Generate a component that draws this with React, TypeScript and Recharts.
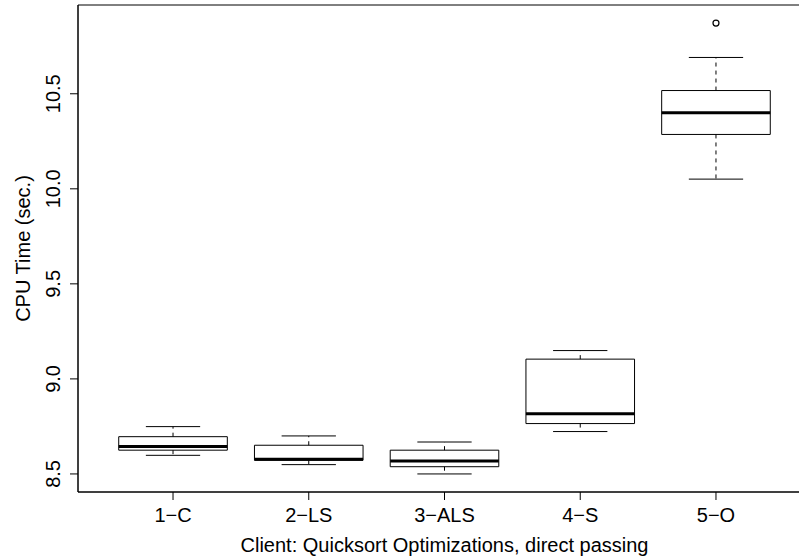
import React from "react";
import {
  ComposedChart,
  XAxis,
  YAxis,
  ReferenceArea,
  ReferenceLine,
  Scatter
} from "recharts";

const groups = ["1−C", "2−LS", "3−ALS", "4−S", "5−O"];
const whiskerLow = [8.598, 8.549, 8.5, 8.723, 10.051];
const q1 = [8.625, 8.572, 8.538, 8.765, 10.286];
const medians = [8.644, 8.577, 8.568, 8.816, 10.4];
const q3 = [8.696, 8.651, 8.625, 9.104, 10.517];
const whiskerHigh = [8.749, 8.7, 8.668, 9.149, 10.691];
const outlierGroup = [5];
const outlierValue = [10.872];
const yTicks = [8.5, 9.0, 9.5, 10.0, 10.5];

const FONT = "'Liberation Sans', Arial, sans-serif";
const FS = 20;
const boxHalf = 0.4;
const capHalf = 0.2;

const outlierData = outlierGroup.map((g, i) => ({ x: g, y: outlierValue[i] }));

const XTick = (props: any) => {
  const { x, y, payload } = props;
  return (
    <text x={x} y={y + 20} textAnchor="middle" fontSize={FS} fontFamily={FONT} fill="#000">
      {groups[payload.value - 1]}
    </text>
  );
};

const YTick = (props: any) => {
  const { x, y, payload } = props;
  const tx = x - 8;
  return (
    <text
      x={tx}
      y={y}
      transform={`rotate(-90, ${tx}, ${y})`}
      textAnchor="middle"
      fontSize={FS}
      fontFamily={FONT}
      fill="#000"
    >
      {payload.value.toFixed(1)}
    </text>
  );
};

const XTitle = (props: any) => {
  const { viewBox } = props;
  return (
    <text
      x={viewBox.x + viewBox.width / 2}
      y={viewBox.y + 60}
      textAnchor="middle"
      fontSize={FS}
      fontFamily={FONT}
      fill="#000"
    >
      Client: Quicksort Optimizations, direct passing
    </text>
  );
};

const YTitle = (props: any) => {
  const { viewBox } = props;
  const cx = 30;
  const cy = viewBox.y + viewBox.height / 2;
  return (
    <text
      x={cx}
      y={cy}
      transform={`rotate(-90, ${cx}, ${cy})`}
      textAnchor="middle"
      fontSize={FS}
      fontFamily={FONT}
      fill="#000"
    >
      CPU Time (sec.)
    </text>
  );
};

const Circle = (props: any) => (
  <circle cx={props.cx} cy={props.cy} r={3} fill="none" stroke="#000" strokeWidth={1.2} />
);

export default function App() {
  return (
    <div
      style={{
        position: "absolute",
        left: 0,
        top: 0,
        width: 799,
        height: 560,
        overflow: "hidden",
        background: "#fff"
      }}
    >
      <ComposedChart
        width={830}
        height={560}
        margin={{ top: 5, right: 19, left: 0, bottom: 0 }}
      >
        <XAxis
          type="number"
          dataKey="x"
          domain={[0.3, 5.7]}
          ticks={[1, 2, 3, 4, 5]}
          allowDataOverflow
          height={68}
          tickSize={8}
          tick={<XTick />}
          axisLine={{ stroke: "#000" }}
          tickLine={{ stroke: "#000" }}
          label={<XTitle />}
        />
        <YAxis
          type="number"
          dataKey="y"
          domain={[8.405, 10.967]}
          ticks={yTicks}
          allowDataOverflow
          width={78}
          tickSize={8}
          tick={<YTick />}
          axisLine={{ stroke: "#000" }}
          tickLine={{ stroke: "#000" }}
          label={<YTitle />}
        />
        <ReferenceArea
          x1={0.3}
          x2={5.7}
          y1={8.405}
          y2={10.967}
          fill="none"
          stroke="#000"
          strokeWidth={1}
        />
        {groups.map((g, i) => (
          <ReferenceArea
            key={"box" + g}
            x1={i + 1 - boxHalf}
            x2={i + 1 + boxHalf}
            y1={q1[i]}
            y2={q3[i]}
            fill="none"
            stroke="#000"
            strokeWidth={1}
          />
        ))}
        {groups.map((g, i) => (
          <ReferenceLine
            key={"wu" + g}
            segment={[{ x: i + 1, y: q3[i] }, { x: i + 1, y: whiskerHigh[i] }]}
            stroke="#000"
            strokeDasharray="4 4"
          />
        ))}
        {groups.map((g, i) => (
          <ReferenceLine
            key={"wl" + g}
            segment={[{ x: i + 1, y: q1[i] }, { x: i + 1, y: whiskerLow[i] }]}
            stroke="#000"
            strokeDasharray="4 4"
          />
        ))}
        {groups.map((g, i) => (
          <ReferenceLine
            key={"cu" + g}
            segment={[{ x: i + 1 - capHalf, y: whiskerHigh[i] }, { x: i + 1 + capHalf, y: whiskerHigh[i] }]}
            stroke="#000"
          />
        ))}
        {groups.map((g, i) => (
          <ReferenceLine
            key={"cl" + g}
            segment={[{ x: i + 1 - capHalf, y: whiskerLow[i] }, { x: i + 1 + capHalf, y: whiskerLow[i] }]}
            stroke="#000"
          />
        ))}
        {groups.map((g, i) => (
          <ReferenceLine
            key={"md" + g}
            segment={[{ x: i + 1 - boxHalf, y: medians[i] }, { x: i + 1 + boxHalf, y: medians[i] }]}
            stroke="#000"
            strokeWidth={3}
          />
        ))}
        <Scatter data={outlierData} shape={<Circle />} isAnimationActive={false} />
      </ComposedChart>
    </div>
  );
}
